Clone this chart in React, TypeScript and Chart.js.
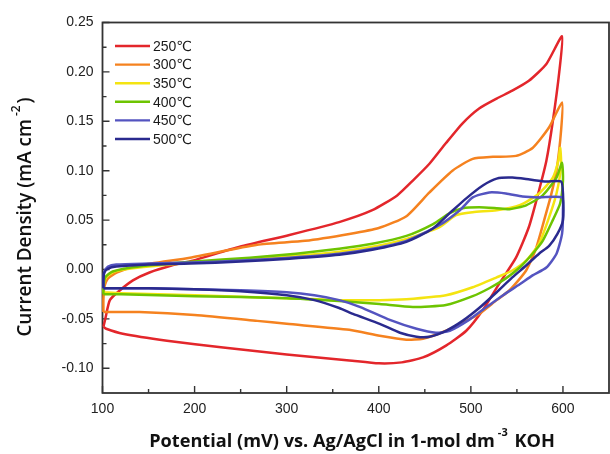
import React, { useEffect, useRef } from "react";
import { Chart, registerables } from "chart.js";

Chart.register(...registerables);

// ---- Data (mV, mA cm^-2) ----
const labels = ["250℃", "300℃", "350℃", "400℃", "450℃", "500℃"];
const colors = ["#E3262B", "#F5821F", "#F4E411", "#6DC401", "#5454C0", "#2A2A8E"];

const curve250: [number, number][] = [
  [101, -0.058], [103, -0.05], [108, -0.031], [119, -0.021], [133, -0.011], [151, -0.003],
  [175, 0.004], [198, 0.009], [249, 0.023], [303, 0.035], [357, 0.048], [393, 0.06],
  [420, 0.075], [437, 0.09], [455, 0.107], [473, 0.128], [491, 0.148], [509, 0.163],
  [528, 0.173], [545, 0.181], [563, 0.191], [582, 0.208], [599, 0.236],
  [596, 0.2], [589, 0.15], [582, 0.11], [574, 0.08], [563, 0.043], [549, 0.012],
  [531, -0.014], [513, -0.041], [495, -0.062], [473, -0.077], [448, -0.089], [425, -0.094],
  [400, -0.095], [368, -0.092], [300, -0.086], [231, -0.079], [170, -0.072], [122, -0.065],
  [104, -0.06], [101, -0.058],
];

const curve300: [number, number][] = [
  [101, -0.043], [101, -0.03], [102, -0.018], [106, -0.009], [116, -0.003], [140, 0.004],
  [195, 0.012], [268, 0.025], [320, 0.029], [368, 0.036], [400, 0.042], [430, 0.054],
  [455, 0.078], [480, 0.1], [502, 0.112], [524, 0.114], [549, 0.115], [567, 0.123],
  [585, 0.144], [599, 0.169],
  [598, 0.141], [593, 0.1], [587, 0.075], [582, 0.058], [571, 0.022], [560, -0.001],
  [542, -0.021], [528, -0.031], [509, -0.045], [495, -0.052], [473, -0.062], [448, -0.07],
  [430, -0.071], [401, -0.067], [368, -0.061], [300, -0.055], [268, -0.052], [200, -0.046],
  [140, -0.043], [104, -0.043], [101, -0.043],
];

const curve350: [number, number][] = [
  [101, -0.023], [101, -0.016], [104, -0.008], [113, -0.002], [140, 0.002], [200, 0.007],
  [260, 0.011], [310, 0.014], [357, 0.018], [393, 0.023], [430, 0.031], [466, 0.043],
  [484, 0.055], [502, 0.058], [528, 0.06], [553, 0.065], [574, 0.077], [589, 0.093],
  [595, 0.11], [597, 0.123],
  [598, 0.105], [593, 0.077], [585, 0.053], [574, 0.026], [560, 0.009], [545, -0.001],
  [528, -0.008], [502, -0.018], [473, -0.026], [430, -0.03], [401, -0.031], [357, -0.031],
  [300, -0.029], [200, -0.026], [120, -0.024], [101, -0.023],
];

const curve400: [number, number][] = [
  [101, -0.025], [101, -0.018], [103, -0.008], [111, -0.002], [140, 0.003], [200, 0.008],
  [260, 0.012], [310, 0.016], [357, 0.021], [393, 0.026], [430, 0.034], [459, 0.046],
  [477, 0.057], [491, 0.062], [509, 0.063], [528, 0.062], [542, 0.061], [560, 0.065],
  [578, 0.075], [593, 0.093], [599, 0.108],
  [600, 0.09], [597, 0.067], [589, 0.05], [578, 0.029], [567, 0.016], [553, 0.002],
  [538, -0.009], [520, -0.019], [502, -0.027], [473, -0.036], [437, -0.038], [401, -0.035],
  [357, -0.032], [300, -0.029], [200, -0.027], [120, -0.025], [101, -0.025],
];

const curve450: [number, number][] = [
  [101, -0.019], [101, -0.01], [102, -0.002], [106, 0.003], [115, 0.005], [150, 0.006],
  [195, 0.007], [250, 0.009], [303, 0.012], [357, 0.016], [393, 0.021], [430, 0.029],
  [466, 0.045], [488, 0.06], [502, 0.073], [520, 0.078], [538, 0.077], [556, 0.074],
  [574, 0.073], [599, 0.073],
  [600, 0.06], [599, 0.036], [593, 0.016], [582, 0.002], [567, -0.006], [553, -0.015],
  [535, -0.026], [517, -0.038], [498, -0.051], [477, -0.062], [462, -0.064], [441, -0.06],
  [412, -0.051], [380, -0.038], [357, -0.031], [330, -0.026], [300, -0.023], [250, -0.021],
  [200, -0.02], [150, -0.019], [101, -0.019],
];

const curve500: [number, number][] = [
  [101, -0.019], [101, -0.01], [102, -0.003], [106, 0.001], [115, 0.003], [150, 0.005],
  [195, 0.006], [250, 0.008], [303, 0.011], [357, 0.015], [393, 0.02], [430, 0.028],
  [458, 0.041], [477, 0.057], [495, 0.072], [513, 0.085], [528, 0.092], [545, 0.093],
  [564, 0.091], [582, 0.089], [598, 0.089],
  [600, 0.077], [600, 0.05], [594, 0.036], [585, 0.024], [574, 0.016], [560, 0.004],
  [545, -0.008], [528, -0.023], [509, -0.039], [491, -0.052], [473, -0.062], [455, -0.068],
  [441, -0.068], [423, -0.064], [401, -0.055], [372, -0.045], [357, -0.039], [330, -0.031],
  [300, -0.026], [250, -0.022], [200, -0.02], [150, -0.019], [101, -0.019],
];

const curves = [curve250, curve300, curve350, curve400, curve450, curve500];

const xMajor = [100, 200, 300, 400, 500, 600];
const xMinor = [150, 250, 350, 450, 550];
const yMajor = [-0.1, -0.05, 0, 0.05, 0.1, 0.15, 0.2, 0.25];
const yMinor = [-0.075, -0.025, 0.025, 0.075, 0.125, 0.175, 0.225];

const xTitle = ["Potential (mV) vs. Ag/AgCl in 1-mol dm", "-3", " KOH"];
const yTitle = ["Current Density (mA cm", "-2", ")"];

const TICK_FONT = '14px "Liberation Sans", Arial, sans-serif';
const TITLE_FAMILY = '"Open Sans", "Noto Sans", sans-serif';
const LEGEND_FONT = '14px "Liberation Sans", "DejaVu Sans", sans-serif';

function drawTitle(ctx: CanvasRenderingContext2D, parts: string[], targetWidth: number, weight: string) {
  // choose a font size so the title spans the same length as in the reference
  const measure = (size: number) => {
    ctx.font = `${weight} ${size}px ${TITLE_FAMILY}`;
    const w1 = ctx.measureText(parts[0]).width;
    const w3 = ctx.measureText(parts[2]).width;
    ctx.font = `${weight} ${Math.round(size * 0.62)}px ${TITLE_FAMILY}`;
    const w2 = ctx.measureText(parts[1]).width + 5;
    return { w1, w2, w3, total: w1 + w2 + w3 };
  };
  let size = 16;
  const m0 = measure(size);
  size = Math.max(12, Math.min(20, size * (targetWidth / m0.total)));
  const m = measure(size);
  let x = -m.total / 2;
  ctx.textBaseline = "middle";
  ctx.textAlign = "left";
  ctx.font = `${weight} ${size}px ${TITLE_FAMILY}`;
  ctx.fillText(parts[0], x, 0);
  x += m.w1 + 3;
  ctx.font = `${weight} ${Math.round(size * 0.62)}px ${TITLE_FAMILY}`;
  ctx.fillText(parts[1], x, -size * 0.5);
  x += m.w2 - 3;
  ctx.font = `${weight} ${size}px ${TITLE_FAMILY}`;
  ctx.fillText(parts[2], x, 0);
}

const framePlugin = {
  id: "framePlugin",
  beforeDatasetsDraw(chart: any) {
    const { ctx, chartArea: a } = chart;
    ctx.save();
    ctx.strokeStyle = "#333";
    ctx.lineWidth = 1.8;
    ctx.strokeRect(a.left, a.top, a.right - a.left, a.bottom - a.top);
    const xs = chart.scales.x;
    const ys = chart.scales.y;
    ctx.lineWidth = 1.4;
    ctx.beginPath();
    xMajor.forEach((v) => {
      const p = xs.getPixelForValue(v);
      ctx.moveTo(p, a.bottom);
      ctx.lineTo(p, a.bottom - 7);
    });
    xMinor.forEach((v) => {
      const p = xs.getPixelForValue(v);
      ctx.moveTo(p, a.bottom);
      ctx.lineTo(p, a.bottom - 4);
    });
    yMajor.forEach((v) => {
      const p = ys.getPixelForValue(v);
      ctx.moveTo(a.left, p);
      ctx.lineTo(a.left + 7, p);
    });
    yMinor.forEach((v) => {
      const p = ys.getPixelForValue(v);
      ctx.moveTo(a.left, p);
      ctx.lineTo(a.left + 4, p);
    });
    ctx.stroke();
    ctx.restore();
  },
  afterDraw(chart: any) {
    const { ctx, chartArea: a } = chart;
    const xs = chart.scales.x;
    const ys = chart.scales.y;
    ctx.save();
    ctx.fillStyle = "#222";
    ctx.font = TICK_FONT;
    ctx.textAlign = "center";
    ctx.textBaseline = "middle";
    xMajor.forEach((v) => ctx.fillText(String(v), xs.getPixelForValue(v), a.bottom + 16));
    ctx.textAlign = "right";
    yMajor.forEach((v) => ctx.fillText(v.toFixed(2), a.left - 9, ys.getPixelForValue(v)));

    // axis titles
    ctx.fillStyle = "#111";
    ctx.save();
    ctx.translate(352, 442);
    drawTitle(ctx, xTitle, 407, "bold");
    ctx.restore();
    ctx.save();
    ctx.translate(26, 217);
    ctx.rotate(-Math.PI / 2);
    drawTitle(ctx, yTitle, 240, "600");
    ctx.restore();

    // legend
    ctx.font = LEGEND_FONT;
    ctx.textAlign = "left";
    ctx.textBaseline = "middle";
    labels.forEach((lab, i) => {
      const y = 46 + i * 18.6;
      ctx.strokeStyle = colors[i];
      ctx.lineWidth = 2.4;
      ctx.beginPath();
      ctx.moveTo(115, y);
      ctx.lineTo(150, y);
      ctx.stroke();
      ctx.fillStyle = "#1a1a1a";
      ctx.fillText(lab, 153, y + 1);
    });
    ctx.restore();
  },
};

export default function App() {
  const ref = useRef<HTMLCanvasElement>(null);
  useEffect(() => {
    document.body.style.margin = "0";
    const chart = new Chart(ref.current as HTMLCanvasElement, {
      type: "line",
      data: {
        datasets: curves.map((c, i) => ({
          label: labels[i],
          data: c.map(([x, y]) => ({ x, y })),
          borderColor: colors[i],
          backgroundColor: colors[i],
          borderWidth: 2.5,
          pointRadius: 0,
          tension: 0.2,
          fill: false,
          clip: false as any,
          order: 5 - i,
        })),
      },
      options: {
        animation: false,
        responsive: false,
        devicePixelRatio: 1,
        events: [],
        layout: { padding: { left: 102.5, right: 1, top: 22.5, bottom: 61 } },
        plugins: { legend: { display: false }, tooltip: { enabled: false } },
        scales: {
          x: { type: "linear", min: 100, max: 650, display: false },
          y: { type: "linear", min: -0.125, max: 0.25, display: false },
        },
      },
      plugins: [framePlugin],
    });
    return () => chart.destroy();
  }, []);
  return (
    <div style={{ width: 610, height: 454 }}>
      <canvas ref={ref} width={610} height={454} style={{ display: "block", width: 610, height: 454 }} />
    </div>
  );
}
